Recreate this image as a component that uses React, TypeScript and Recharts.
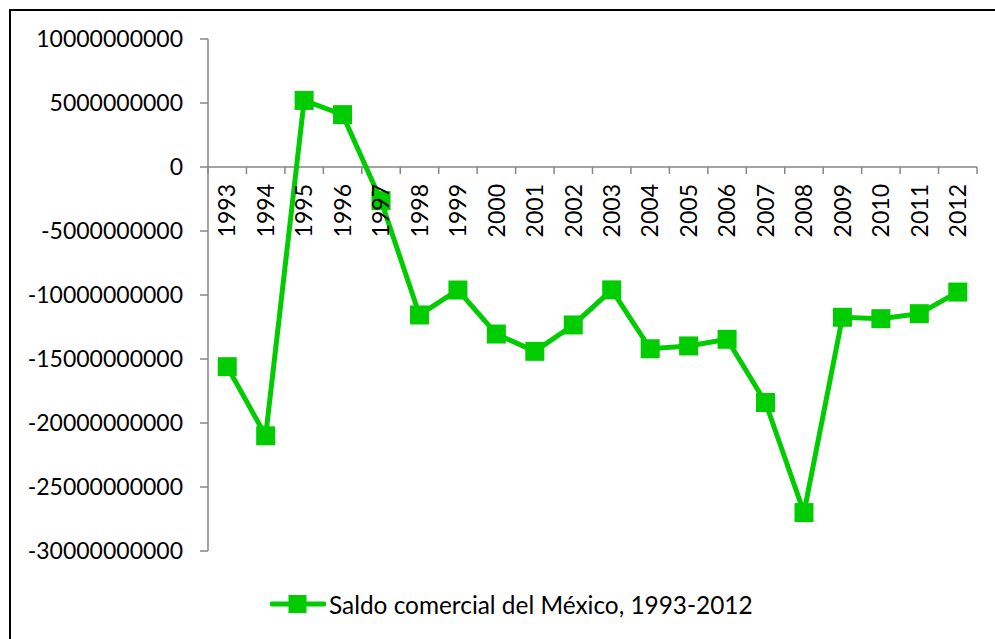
import React from "react"
import { ComposedChart, Line, XAxis, YAxis, ReferenceLine, Legend } from "recharts"

// Saldo comercial de México, 1993-2012 (USD)
const years = [
  "1993", "1994", "1995", "1996", "1997", "1998", "1999", "2000", "2001", "2002",
  "2003", "2004", "2005", "2006", "2007", "2008", "2009", "2010", "2011", "2012",
]
const saldo = [
  -15600000000, -21000000000, 5200000000, 4090000000, -2630000000,
  -11560000000, -9610000000, -13050000000, -14400000000, -12340000000,
  -9600000000, -14200000000, -13980000000, -13460000000, -18400000000,
  -27000000000, -11740000000, -11850000000, -11460000000, -9770000000,
]
const yTicks = [10000000000, 5000000000, 0, -5000000000, -10000000000, -15000000000, -20000000000, -25000000000, -30000000000]
const seriesName = "Saldo comercial del México, 1993-2012"

const chartData = years.map((year, i) => ({ year, saldo: saldo[i] }))

const W = 995
const H = 639
const Y_MIN = -30000000000
const Y_MAX = 10000000000
const MARGIN = { top: 39, right: 18, left: 0, bottom: 0 }
const Y_AXIS_W = 208
const X_AXIS_H = 30
const LEGEND_H = 58
const PLOT_W = W - MARGIN.left - MARGIN.right - Y_AXIS_W
const PLOT_H = H - MARGIN.top - MARGIN.bottom - X_AXIS_H - LEGEND_H
// distance from the bottom of the plot up to the zero line
const ZERO_FROM_BOTTOM = (PLOT_H * (0 - Y_MIN)) / (Y_MAX - Y_MIN)

const GREEN = "#00cc00"
const AXIS = "#868686"
const FONT = "Lato, 'Liberation Sans', sans-serif"

const YearTick = ({ x, y, payload, index, visibleTicksCount }: any) => {
  const zeroY = y - ZERO_FROM_BOTTOM
  const half = PLOT_W / years.length / 2
  const last = index === visibleTicksCount - 1
  return (
    <g>
      <line x1={x - half} x2={x - half} y1={zeroY} y2={zeroY + 7} stroke={AXIS} strokeWidth={1.5} />
      {last && <line x1={x + half} x2={x + half} y1={zeroY} y2={zeroY + 7} stroke={AXIS} strokeWidth={1.5} />}
      <text
        x={x}
        y={zeroY + 17}
        transform={`rotate(-90, ${x}, ${zeroY + 17})`}
        textAnchor="end"
        dy="0.36em"
        fontSize={23}
        fontFamily={FONT}
        fill="#000"
      >
        {payload.value}
      </text>
    </g>
  )
}

const SquareDot = ({ cx, cy }: any) => {
  if (cx == null || cy == null) return null
  return <rect x={cx - 9.5} y={cy - 9.5} width={19} height={19} fill={GREEN} />
}

const LegendContent = ({ payload }: any) => (
  <div style={{ height: LEGEND_H, position: "relative" }}>
    {(payload || []).map((entry: any, i: number) => (
      <div
        key={i}
        style={{ position: "absolute", left: 270, top: 7, display: "flex", alignItems: "center", height: 32 }}
      >
        <svg width={56} height={20} style={{ display: "block" }}>
          <line x1={2} x2={54} y1={10} y2={10} stroke={GREEN} strokeWidth={5} strokeLinecap="round" />
          <rect x={18.5} y={1} width={18} height={18} fill={GREEN} />
        </svg>
        <span style={{ fontFamily: FONT, fontSize: 24.4, color: "#000", marginLeft: 3, whiteSpace: "nowrap" }}>
          {seriesName}
        </span>
      </div>
    ))}
  </div>
)

export default function App() {
  return (
    <div style={{ position: "fixed", left: 0, top: 0, width: W, height: H, background: "#fff" }}>
      <div
        style={{
          position: "absolute",
          left: 9,
          top: 9,
          right: 0,
          bottom: 0,
          borderTop: "2px solid #000",
          borderLeft: "2px solid #000",
        }}
      />
      <ComposedChart width={W} height={H} data={chartData} margin={MARGIN}>
        <XAxis
          dataKey="year"
          scale="band"
          height={X_AXIS_H}
          axisLine={false}
          tickLine={false}
          tickSize={0}
          tickMargin={0}
          interval={0}
          tick={<YearTick />}
        />
        <YAxis
          width={Y_AXIS_W}
          domain={[Y_MIN, Y_MAX]}
          ticks={yTicks}
          allowDataOverflow
          stroke={AXIS}
          axisLine={{ stroke: AXIS, strokeWidth: 1.5 }}
          tickLine={{ stroke: AXIS, strokeWidth: 1.5 }}
          tickSize={8}
          tickMargin={17}
          tick={{ fontSize: 23, fontFamily: FONT, fill: "#000" }}
        />
        <ReferenceLine y={0} stroke={AXIS} strokeWidth={1.5} />
        <Legend verticalAlign="bottom" content={<LegendContent />} />
        <Line
          dataKey="saldo"
          name={seriesName}
          stroke={GREEN}
          strokeWidth={5}
          dot={<SquareDot />}
          activeDot={false}
          isAnimationActive={false}
        />
      </ComposedChart>
    </div>
  )
}
